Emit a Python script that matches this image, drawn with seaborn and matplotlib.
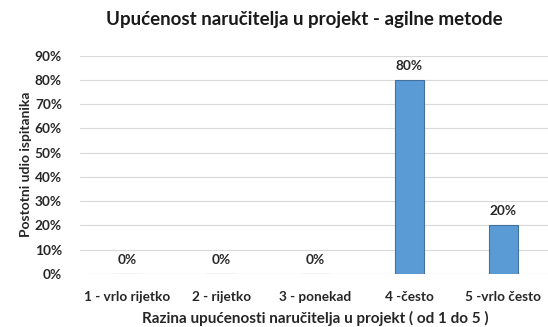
import matplotlib
matplotlib.use("Agg")
import matplotlib.pyplot as plt
import seaborn as sns
import pandas as pd
from matplotlib.ticker import PercentFormatter, MultipleLocator

categories = ["1 - vrlo rijetko", "2 - rijetko", "3 - ponekad", "4 -često", "5 -vrlo često"]
shares = [0, 0, 0, 80, 20]
title = "Upućenost naručitelja u projekt - agilne metode"
x_label = "Razina upućenosti naručitelja u projekt ( od 1 do 5 )"
y_label = "Postotni udio ispitanika"

sns.set_theme(style="white")
plt.rcParams["font.family"] = ["Lato", "DejaVu Sans"]

df = pd.DataFrame({"kategorija": categories, "udio": shares})

fig = plt.figure(figsize=(5.48, 3.27), dpi=100)
ax = fig.add_axes([0.146, 0.162, 0.858, 0.668])

sns.barplot(data=df, x="kategorija", y="udio", ax=ax, color="#5B9BD5",
            edgecolor="#41719C", linewidth=0.8, width=0.31, saturation=1)

ax.set_ylim(0, 90)
ax.yaxis.set_major_locator(MultipleLocator(10))
ax.yaxis.set_major_formatter(PercentFormatter(decimals=0))
ax.grid(axis="y", color="#D9D9D9", linewidth=0.8)
ax.set_axisbelow(True)
for s in ax.spines.values():
    s.set_visible(False)
ax.tick_params(axis="both", length=0, labelsize=9.8, colors="#262626")
ax.tick_params(axis="y", pad=13)
ax.tick_params(axis="x", pad=12)
for lbl in ax.get_xticklabels() + ax.get_yticklabels():
    lbl.set_fontweight("bold")

for i, v in enumerate(shares):
    ax.annotate(f"{v:.0f}%", xy=(i, v), xytext=(0, 6), textcoords="offset points",
                ha="center", va="bottom", fontsize=9.8, fontweight="bold", color="#262626")

ax.set_xlabel(x_label, fontsize=11, fontweight="bold", color="#262626", labelpad=6)
ax.set_ylabel(y_label, fontsize=10, fontweight="bold", color="#262626", labelpad=2)
fig.suptitle(title, x=0.555, y=0.965, fontsize=13.5, fontweight="bold", color="#1a1a1a")

fig.savefig("out.png", dpi=100)
